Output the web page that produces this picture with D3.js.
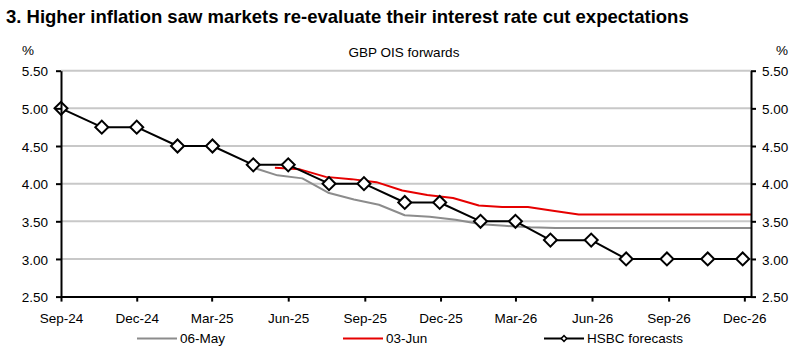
<!DOCTYPE html>
<html lang="en">
<head>
  <meta charset="utf-8">
  <title>GBP OIS forwards</title>
  <style>
    body { margin: 0; background: #fff; }
    svg { display: block; font-family: "Liberation Sans", Arial, sans-serif; }
    .grid line { stroke: #c8c8c8; stroke-width: 2; }
    .axis path, .axis line { stroke: #000; stroke-width: 2; }
    .axis text { font-size: 13.5px; fill: #000; }
  </style>
  <script src="https://d3js.org/d3.v7.min.js"></script>
</head>
<body>
<script>

    // HSBC forecasts at BoE MPC meeting dates
    let hsbcDates = ["2024-09-19", "2024-11-07", "2024-12-19", "2025-02-06", "2025-03-20", "2025-05-08",
                     "2025-06-19", "2025-08-07", "2025-09-18", "2025-11-06", "2025-12-18", "2026-02-05",
                     "2026-03-19", "2026-04-30", "2026-06-18", "2026-07-30", "2026-09-17", "2026-11-05",
                     "2026-12-17"]
    let hsbcValues = [5.00, 4.75, 4.75, 4.50, 4.50, 4.25, 4.25, 4.00, 4.00, 3.75, 3.75, 3.50,
                      3.50, 3.25, 3.25, 3.00, 3.00, 3.00, 3.00]

    // OIS forward curve of 06-May
    let mayDates = ["2025-05-06", "2025-06-06", "2025-07-06", "2025-08-06", "2025-09-06", "2025-10-06",
                    "2025-11-06", "2025-12-06", "2026-01-06", "2026-02-06", "2026-03-06", "2026-04-06",
                    "2026-05-06", "2026-06-06", "2026-07-06", "2026-08-06", "2026-09-06", "2026-10-06",
                    "2026-11-06", "2026-12-06", "2026-12-27"]
    let mayValues = [4.22, 4.11, 4.07, 3.88, 3.79, 3.72, 3.58, 3.56, 3.52, 3.46, 3.44, 3.42,
                     3.41, 3.41, 3.41, 3.41, 3.41, 3.41, 3.41, 3.41, 3.41]

    // OIS forward curve of 03-Jun
    let junDates = ["2025-06-03", "2025-07-03", "2025-08-03", "2025-09-03", "2025-10-03", "2025-11-03",
                    "2025-12-03", "2026-01-03", "2026-02-03", "2026-03-03", "2026-04-03", "2026-05-03",
                    "2026-06-03", "2026-07-03", "2026-08-03", "2026-09-03", "2026-10-03", "2026-11-03",
                    "2026-12-03", "2026-12-27"]
    let junValues = [4.21, 4.19, 4.09, 4.06, 4.02, 3.91, 3.85, 3.81, 3.71, 3.69, 3.69, 3.64,
                     3.59, 3.59, 3.59, 3.59, 3.59, 3.59, 3.59, 3.59]

    let xTicks = ["2024-09-19", "2024-12-19", "2025-03-19", "2025-06-19", "2025-09-19",
                  "2025-12-19", "2026-03-19", "2026-06-19", "2026-09-19", "2026-12-19"]
    let yTicks = [2.5, 3.0, 3.5, 4.0, 4.5, 5.0, 5.5]
    let xDomain = ["2024-09-19", "2026-12-27"]

    let seriesNames = ["06-May", "03-Jun", "HSBC forecasts"]
    let seriesColors = ["#8c8c8c", "#e60000", "#000000"]

    let width = 801
    let height = 353
    let plotLeft = 61
    let plotRight = 751
    let plotTop = 70.7
    let plotBottom = 296.6

    let parse = d3.timeParse("%Y-%m-%d")
    let zip = (dates, values) => dates.map((d, i) => ({ date: parse(d), value: values[i] }))

    let hsbc = zip(hsbcDates, hsbcValues)
    let may = zip(mayDates, mayValues)
    let jun = zip(junDates, junValues)

    let svg = d3.select("body").append("svg")
                .attr("width", width)
                .attr("height", height)

    let xScale = d3.scaleTime()
                   .domain(xDomain.map(parse))
                   .range([plotLeft, plotRight])

    let yScale = d3.scaleLinear()
                   .domain([2.5, 5.5])
                   .range([plotBottom, plotTop])

    // title and labels
    svg.append("text")
       .attr("x", 6)
       .attr("y", 23)
       .attr("font-size", "18.5px")
       .attr("font-weight", "bold")
       .text("3. Higher inflation saw markets re-evaluate their interest rate cut expectations")

    svg.append("text")
       .attr("x", 404)
       .attr("y", 57)
       .attr("text-anchor", "middle")
       .attr("font-size", "13.5px")
       .text("GBP OIS forwards")

    svg.append("text").attr("x", 28).attr("y", 55).attr("text-anchor", "middle")
       .attr("font-size", "13.5px").text("%")
    svg.append("text").attr("x", 782).attr("y", 55).attr("text-anchor", "middle")
       .attr("font-size", "13.5px").text("%")

    // gridlines
    svg.append("g")
       .attr("class", "grid")
       .selectAll("line")
       .data(yTicks.slice(1))
       .enter()
       .append("line")
       .attr("x1", plotLeft)
       .attr("x2", plotRight)
       .attr("y1", d => yScale(d))
       .attr("y2", d => yScale(d))

    // lines
    let line = d3.line()
                 .x(d => xScale(d.date))
                 .y(d => yScale(d.value))

    let series = [may, jun, hsbc]
    series.forEach((s, i) => {
        svg.append("path")
           .datum(s)
           .attr("fill", "none")
           .attr("stroke", seriesColors[i])
           .attr("stroke-width", 2)
           .attr("stroke-linejoin", "round")
           .attr("d", line)
    })

    let diamond = d3.symbol().type(d3.symbolSquare).size(84)

    svg.append("g")
       .selectAll("path")
       .data(hsbc)
       .enter()
       .append("path")
       .attr("d", diamond)
       .attr("transform", d => `translate(${xScale(d.date)},${yScale(d.value)}) rotate(45)`)
       .attr("fill", "#fff")
       .attr("stroke", "#000")
       .attr("stroke-width", 2)

    // axes
    let fmt = d3.format(".2f")

    svg.append("g")
       .attr("class", "axis")
       .attr("transform", `translate(${plotLeft},0)`)
       .call(d3.axisLeft(yScale).tickValues(yTicks).tickFormat(fmt).tickSize(5).tickSizeOuter(0).tickPadding(8))
       .call(g => g.selectAll("text").attr("dy", "0.38em"))

    svg.append("g")
       .attr("class", "axis")
       .attr("transform", `translate(${plotRight},0)`)
       .call(d3.axisRight(yScale).tickValues(yTicks).tickFormat(fmt).tickSize(5).tickSizeOuter(0).tickPadding(6))
       .call(g => g.selectAll("text").attr("dy", "0.38em"))

    svg.append("g")
       .attr("class", "axis")
       .attr("transform", `translate(0,${plotBottom})`)
       .call(d3.axisBottom(xScale).tickValues(xTicks.map(parse)).tickFormat(d3.timeFormat("%b-%y"))
               .tickSize(5).tickSizeOuter(0).tickPadding(12))

    // legend
    let legendX = [137, 343, 544]
    let legendY = 338.5
    let legend = svg.append("g")
                    .selectAll("g")
                    .data(seriesNames)
                    .enter()
                    .append("g")
                    .attr("transform", (d, i) => `translate(${legendX[i]},${legendY})`)

    legend.append("line")
          .attr("x1", 0)
          .attr("x2", 40)
          .attr("stroke", (d, i) => seriesColors[i])
          .attr("stroke-width", 2)

    legend.filter((d, i) => i === 2)
          .append("path")
          .attr("d", d3.symbol().type(d3.symbolSquare).size(16))
          .attr("transform", "translate(20,0) rotate(45)")
          .attr("fill", "#fff")
          .attr("stroke", "#000")
          .attr("stroke-width", 1.5)

    legend.append("text")
          .attr("x", 43)
          .attr("y", 4.5)
          .attr("font-size", "13.5px")
          .text(d => d)

</script>
</body>
</html>
